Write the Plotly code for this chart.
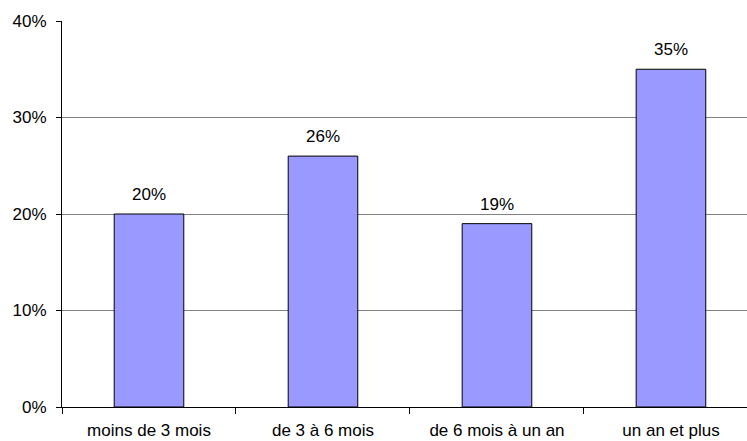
import plotly.graph_objects as go

categories = ["moins de 3 mois", "de 3 à 6 mois", "de 6 mois à un an", "un an et plus"]
values = [20, 26, 19, 35]
y_ticks = [0, 10, 20, 30, 40]
y_tick_labels = ["0%", "10%", "20%", "30%", "40%"]

font_family = "Liberation Sans, Arial, sans-serif"
font_size = 17
positions = list(range(len(categories)))

fig = go.Figure()
fig.add_trace(go.Bar(
    x=positions,
    y=values,
    width=0.4,
    marker=dict(color="#9999FF", line=dict(color="#000000", width=1)),
    hoverinfo="skip",
))

# value labels above each bar
for xi, v in zip(positions, values):
    fig.add_annotation(
        x=xi, y=v, text=f"{v}%", showarrow=False,
        yanchor="bottom", yshift=8,
        font=dict(family=font_family, size=font_size, color="#000000"),
    )

# invisible trace carrying the category-boundary tick marks
boundaries = [p - 0.5 for p in positions] + [positions[-1] + 0.5]
fig.add_trace(go.Scatter(x=boundaries, y=[None] * len(boundaries), xaxis="x2",
                         mode="markers", showlegend=False, hoverinfo="skip"))

x_range = [-0.5, 3.437]
fig.update_layout(
    width=747, height=441,
    margin=dict(l=62, r=0, t=21, b=34, autoexpand=False),
    paper_bgcolor="#FFFFFF", plot_bgcolor="#FFFFFF",
    showlegend=False,
    font=dict(family=font_family, size=font_size, color="#000000"),
    xaxis=dict(
        range=x_range, tickmode="array", tickvals=positions, ticktext=categories,
        ticks="", showgrid=False, zeroline=False, automargin=False,
        showline=True, linecolor="#000000", linewidth=1,
        ticklabelstandoff=8,
        tickfont=dict(family=font_family, size=font_size, color="#000000"),
    ),
    xaxis2=dict(
        range=x_range, overlaying="x", side="bottom", anchor="y",
        tickmode="array", tickvals=boundaries, showticklabels=False,
        ticks="outside", ticklen=6, tickcolor="#000000", tickwidth=1,
        showgrid=False, zeroline=False, showline=False, automargin=False,
    ),
    yaxis=dict(
        range=[0, 40], tickmode="array", tickvals=y_ticks, ticktext=y_tick_labels,
        ticks="outside", ticklen=5, tickcolor="#000000", automargin=False,
        showgrid=True, gridcolor="#808080", gridwidth=1,
        zeroline=False, showline=True, linecolor="#000000", linewidth=1,
        ticklabelstandoff=6,
        tickfont=dict(family=font_family, size=font_size, color="#000000"),
    ),
)

fig.write_html("out.html")
